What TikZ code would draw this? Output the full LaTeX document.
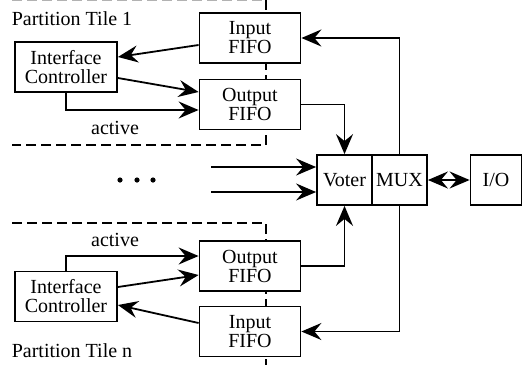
\documentclass[tikz,border=0pt]{standalone}
\usepackage{fontspec}
\setmainfont{Liberation Serif}
\usetikzlibrary{arrows.meta,calc,positioning}
\tikzstyle{blk}=[rectangle, draw=black, fill=white, line width=0.9pt, align=center, inner sep=1pt, font=\rmfamily\fontsize{10}{9.5}\selectfont]
\tikzstyle{fifo}=[blk, minimum width=50.5pt, minimum height=25pt]
\tikzstyle{ctrl}=[blk, minimum width=51pt, minimum height=25pt]
\tikzstyle{sq}=[blk, minimum width=27.5pt, minimum height=25pt]
\tikzstyle{l1}=[line width=0.9pt]
\tikzstyle{a1}=[l1, -{Stealth[length=10pt, width=8.5pt, inset=3.5pt]}]
\tikzstyle{a2}=[l1, {Stealth[length=10pt, width=8.5pt, inset=3.5pt]}-{Stealth[length=10pt, width=8.5pt, inset=3.5pt]}]
\tikzstyle{part}=[line width=0.8pt, dash pattern=on 5pt off 2.5pt]
\tikzstyle{lbl}=[inner sep=0pt, font=\rmfamily\fontsize{10}{12}\selectfont]

\begin{document}
\begin{tikzpicture}[x=0.5pt, y=-0.5pt]
    \useasboundingbox (0,0) rectangle (522,364);

    % partition borders
    \draw[part, black!30] (12,0.5) -- (266,0.5);
    \draw[part] (266,0) -- (266,145) -- (12,145);
    \draw[part] (12,223) -- (266,223) -- (266,366);

    % tile 1
    \node[lbl] at (72,19) (t1) {Partition Tile 1};
    \node[ctrl] at (66,67) (ic1) {Interface\\Controller};
    \node[fifo] at (250,38) (ififo1) {Input\\FIFO};
    \node[fifo] at (250,104.5) (ofifo1) {Output\\FIFO};
    \node[lbl] at (115,128) (act1) {active};

    % tile n
    \node[lbl] at (72,351) (tn) {Partition Tile n};
    \node[ctrl] at (66,296.5) (ic2) {Interface\\Controller};
    \node[fifo] at (250,266) (ofifo2) {Output\\FIFO};
    \node[fifo] at (250,331.5) (ififo2) {Input\\FIFO};
    \node[lbl] at (115,240) (act2) {active};

    % voter, mux, io
    \node[sq] at (344.5,180) (voter) {Voter};
    \node[sq] at (399.5,180) (mux) {MUX};
    \node[sq, minimum width=25.5pt] at (496,180) (io) {I/O};

    \fill (120,180) circle (1.3pt) (137,180) circle (1.3pt) (153,180) circle (1.3pt);
    \coordinate (in1) at (211,167);
    \coordinate (in2) at (211,192);

    \draw[a1] ([yshift=-3.5pt]ififo1.west) -- ([yshift=5pt]ic1.east);
    \draw[a1] ([yshift=-5.5pt]ic1.east) -- ([yshift=6.25pt]ofifo1.west);
    \draw[a1] (ic1.south) |- ([yshift=-2.75pt]ofifo1.west);
    \draw[a1] (ofifo1.east) -| (voter.north);
    \draw[a1] (mux.north) |- (ififo1.east);

    \draw[a1] ([yshift=4.25pt]ififo2.west) -- ([yshift=-4.25pt]ic2.east);
    \draw[a1] ([yshift=4.75pt]ic2.east) -- ([yshift=-4.5pt]ofifo2.west);
    \draw[a1] (ic2.north) |- ([yshift=5pt]ofifo2.west);
    \draw[a1] (ofifo2.east) -| (voter.south);
    \draw[a1] (mux.south) |- (ififo2.east);

    \draw[a1] (in1) -- (in1 -| voter.west);
    \draw[a1] (in2) -- (in2 -| voter.west);
    \draw[a2] (mux) -- (io);
\end{tikzpicture}
\end{document}
